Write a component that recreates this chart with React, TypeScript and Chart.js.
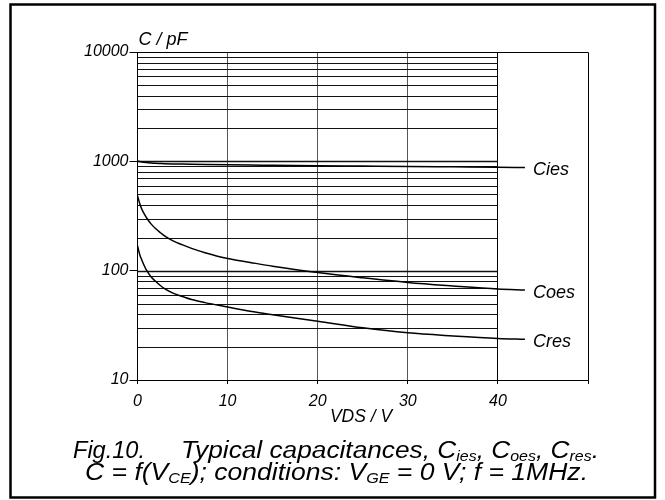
import React, { useEffect, useRef } from 'react';
import { Chart, registerables } from 'chart.js';

Chart.register(...registerables);

// VDS / V sample points
const vds = [0, 0.25, 0.5, 0.75, 1, 1.5, 2, 2.5, 3, 4, 5, 6, 7.5, 10, 12.5, 15, 20, 25, 30, 35, 40, 43];
// capacitances in pF
const cies = [1008, 996, 987, 980, 974, 966, 960, 956, 952, 947, 943, 940, 936, 930, 925, 921, 912, 905, 898, 890, 882, 879];
const coes = [485, 410, 362, 330, 305, 268, 243, 224, 208, 186, 172, 160, 146, 129, 119, 110, 96, 86, 78, 72.5, 68, 66.5];
const cres = [169, 140, 124, 111, 101, 88, 80, 73.5, 68.5, 62, 58, 54.5, 51, 46.5, 42.5, 39.5, 34.5, 30, 27, 25.3, 24, 23.6];

const seriesNames = ['Cies', 'Coes', 'Cres'];
const seriesValues = [cies, coes, cres];

const yTicks = [
  10, 20, 30, 40, 50, 60, 70, 80, 90,
  100, 200, 300, 400, 500, 600, 700, 800, 900,
  1000, 2000, 3000, 4000, 5000, 6000, 7000, 8000, 9000, 10000,
];
const yMajor = [10, 100, 1000, 10000];
const xTicks = [0, 10, 20, 30, 40, 50];
const xLabelled = [0, 10, 20, 30, 40];
const gridEndX = 40;
const labelX = 44;

const yTitle = 'C / pF';
const xTitle = 'VDS / V';
type Seg = [string, boolean];
const captionA: Seg[] = [['Fig.10.', false]];
const captionB: Seg[] = [
  ['Typical capacitances, C', false], ['ies', true], [', C', false], ['oes', true],
  [', C', false], ['res', true], ['.', false],
];
const captionC: Seg[] = [
  ['C = f(V', false], ['CE', true], ['); conditions: V', false], ['GE', true],
  [' = 0 V; f = 1MHz.', false],
];

const FONT = '"Liberation Sans", Arial, sans-serif';

function drawSegs(ctx: CanvasRenderingContext2D, segs: Seg[], x0: number, x1: number, base: number) {
  const mainF = `italic 23px ${FONT}`;
  const subF = `italic 14px ${FONT}`;
  let total = 0;
  const widths = segs.map(([t, sub]) => {
    ctx.font = sub ? subF : mainF;
    const w = ctx.measureText(t).width;
    total += w;
    return w;
  });
  const sx = (x1 - x0) / total;
  ctx.save();
  ctx.translate(x0, base);
  ctx.scale(sx, 1);
  ctx.fillStyle = '#000';
  ctx.textBaseline = 'alphabetic';
  ctx.textAlign = 'left';
  let x = 0;
  segs.forEach(([t, sub], i) => {
    ctx.font = sub ? subF : mainF;
    ctx.fillText(t, x, sub ? 3 : 0);
    x += widths[i];
  });
  ctx.restore();
}

const decorPlugin = {
  id: 'decor',
  beforeDatasetsDraw(chart: any) {
    const { ctx, scales } = chart;
    const xs = scales.x;
    const ys = scales.y;
    const xa = xs.getPixelForValue(0);
    const xb = xs.getPixelForValue(gridEndX);
    ctx.save();
    yTicks.forEach((v) => {
      if (v === 10 || v === 10000) return;
      const y = Math.round(ys.getPixelForValue(v)) + 0.5;
      ctx.beginPath();
      ctx.strokeStyle = '#111';
      ctx.lineWidth = yMajor.includes(v) ? 1.6 : 1;
      ctx.moveTo(xa, y);
      ctx.lineTo(xb, y);
      ctx.stroke();
    });
    ctx.restore();
  },
  afterDraw(chart: any) {
    const { ctx, chartArea, scales } = chart;
    const xs = scales.x;
    const ys = scales.y;
    ctx.save();
    // plot frame top and right
    ctx.strokeStyle = '#000';
    ctx.lineWidth = 1;
    ctx.beginPath();
    ctx.moveTo(chartArea.left, Math.round(chartArea.top) + 0.5);
    ctx.lineTo(Math.round(chartArea.right) + 0.5, Math.round(chartArea.top) + 0.5);
    ctx.lineTo(Math.round(chartArea.right) + 0.5, chartArea.bottom);
    ctx.stroke();

    ctx.fillStyle = '#000';
    ctx.font = `italic 18px ${FONT}`;
    ctx.textAlign = 'left';
    ctx.textBaseline = 'alphabetic';
    ctx.fillText(yTitle, chartArea.left + 1, chartArea.top - 7);
    ctx.font = `italic 17.5px ${FONT}`;
    ctx.textAlign = 'center';
    ctx.fillText(xTitle, 361, chartArea.bottom + 42);

    // curve labels
    ctx.font = `italic 18px ${FONT}`;
    ctx.textAlign = 'left';
    seriesNames.forEach((n, i) => {
      const vals = seriesValues[i];
      const y = ys.getPixelForValue(vals[vals.length - 1]);
      ctx.fillText(n, xs.getPixelForValue(labelX) - 1, y + 8);
    });

    // caption
    drawSegs(ctx, captionA, 73, 145, 458);
    drawSegs(ctx, captionB, 181, 599, 458);
    drawSegs(ctx, captionC, 85, 588, 480);

    // outer frame
    ctx.strokeStyle = '#000';
    ctx.lineWidth = 2.5;
    ctx.strokeRect(10.5, 4.5, 644.5, 493);
    ctx.restore();
  },
};

export default function App() {
  const ref = useRef<HTMLCanvasElement | null>(null);
  useEffect(() => {
    if (!ref.current) return;
    const chart = new Chart(ref.current, {
      type: 'line',
      data: {
        datasets: seriesNames.map((n, i) => ({
          label: n,
          data: vds.map((x, j) => ({ x, y: seriesValues[i][j] })),
          borderColor: '#000',
          borderWidth: 1.5,
          pointRadius: 0,
          fill: false,
          cubicInterpolationMode: 'monotone' as const,
        })),
      },
      options: {
        animation: false,
        responsive: true,
        maintainAspectRatio: false,
        layout: { padding: { top: 52, right: 77, left: 0, bottom: 0 } },
        plugins: { legend: { display: false }, tooltip: { enabled: false } },
        scales: {
          x: {
            type: 'linear',
            min: 0,
            max: 50,
            afterFit: (s: any) => { s.height = 120; },
            afterBuildTicks: (s: any) => { s.ticks = xTicks.map((v) => ({ value: v })); },
            ticks: {
              autoSkip: false,
              maxRotation: 0,
              padding: 8,
              color: '#000',
              font: { family: FONT, size: 16, style: 'italic' },
              callback: (v: any) => (xLabelled.includes(Number(v)) ? String(v) : ''),
            },
            grid: {
              drawOnChartArea: true,
              tickLength: 4,
              color: (c: any) => {
                const v = c.tick ? c.tick.value : 0;
                if (v === 0 || v === 50) return 'rgba(0,0,0,0)';
                return v === 40 ? '#000' : '#555';
              },
              tickColor: '#000',
              lineWidth: 1,
            },
            border: { color: '#000', width: 1 },
          },
          y: {
            type: 'logarithmic',
            min: 10,
            max: 10000,
            afterFit: (s: any) => { s.width = 137.5; },
            afterBuildTicks: (s: any) => { s.ticks = yTicks.map((v) => ({ value: v, major: yMajor.includes(v) })); },
            ticks: {
              autoSkip: false,
              padding: 1,
              color: '#000',
              font: { family: FONT, size: 16, style: 'italic' },
              callback: (v: any) => (yMajor.includes(Number(v)) ? String(v) : ''),
            },
            grid: {
              drawOnChartArea: false,
              tickLength: 8,
              tickColor: (c: any) => (c.tick && yMajor.includes(c.tick.value) ? '#000' : 'rgba(0,0,0,0)'),
            },
            border: { color: '#000', width: 1 },
          },
        },
      },
      plugins: [decorPlugin],
    });
    return () => chart.destroy();
  }, []);
  return (
    <div style={{ position: 'absolute', left: 0, top: 0, width: 665, height: 500, background: '#fff' }}>
      <canvas ref={ref} />
    </div>
  );
}
